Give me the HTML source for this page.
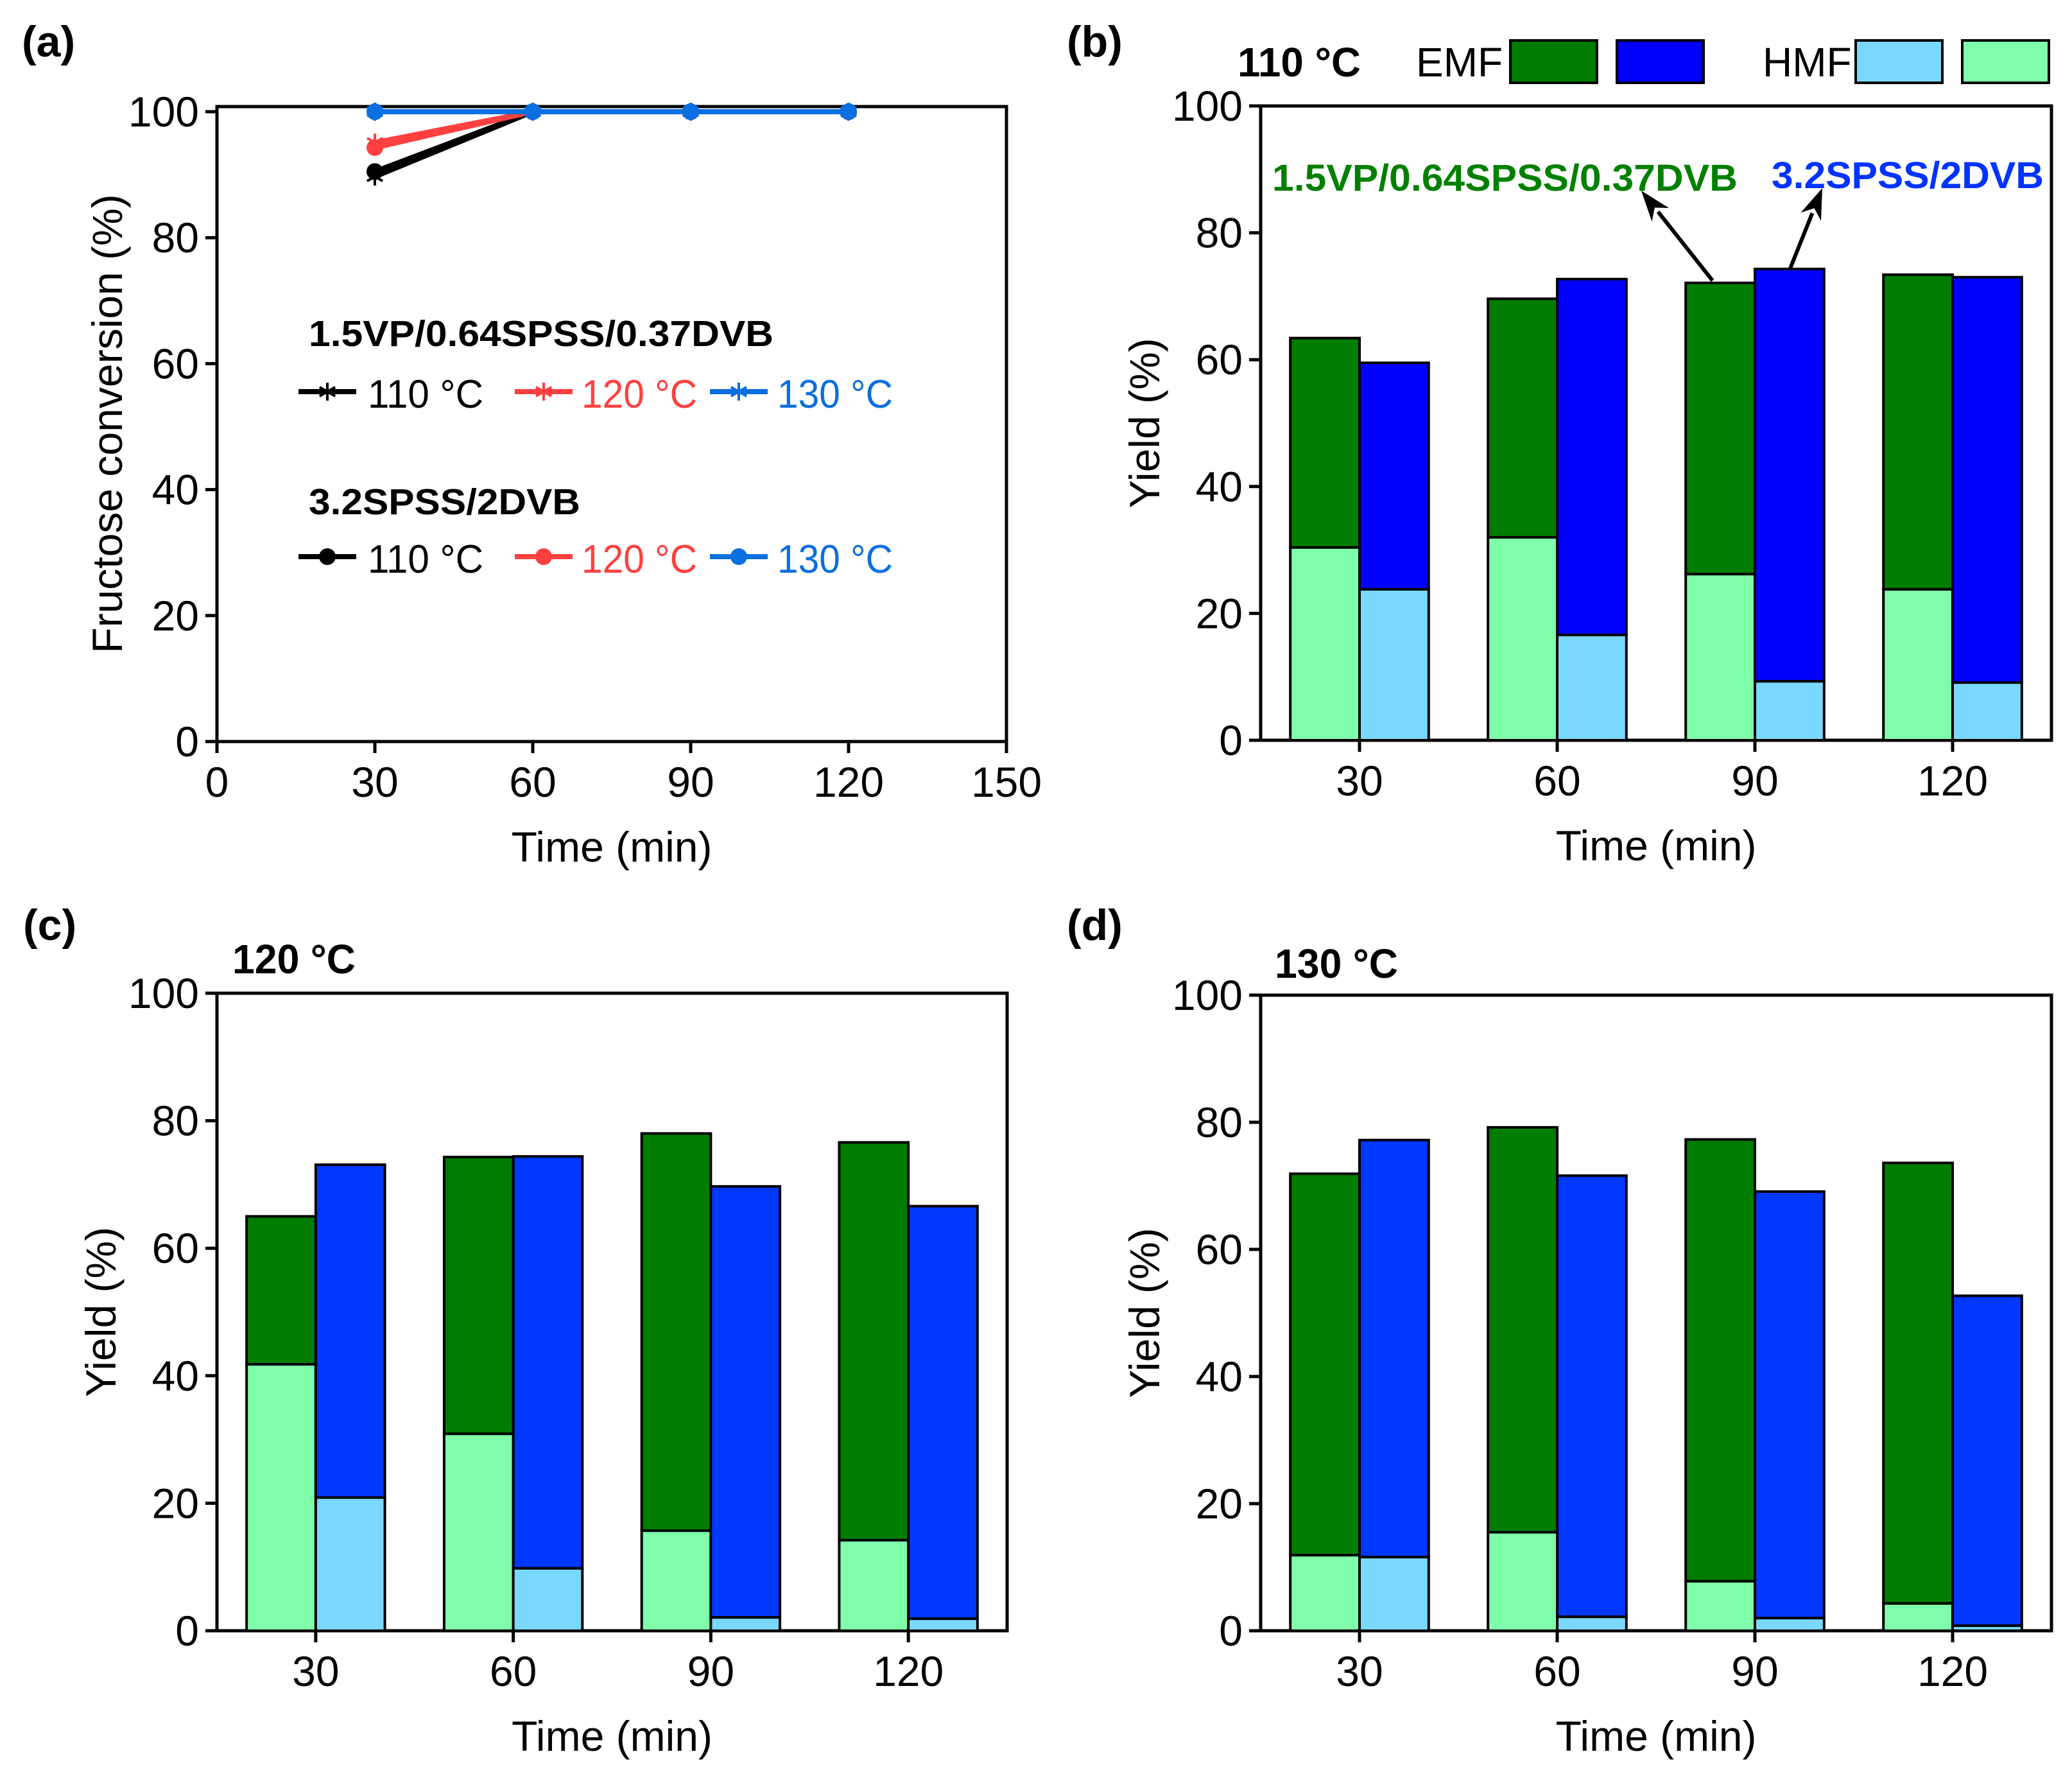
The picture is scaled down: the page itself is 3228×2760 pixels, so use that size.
<!DOCTYPE html>
<html><head><meta charset="utf-8"><style>
html,body{margin:0;padding:0;background:#fff}
svg{display:block}
text{font-family:"Liberation Sans",Arial,sans-serif}
</style></head><body>
<svg id="fig" width="3228" height="2760" viewBox="0 0 3228 2760" xmlns="http://www.w3.org/2000/svg">
<g id="root"></g>
</svg>
<script>
// ---- Panel (a) data ----
const convTimes = [30, 60, 90, 120];
const vp110 = [89.7, 100, 100, 100];
const vp120 = [95.1, 100, 100, 100];
const vp130 = [100, 100, 100, 100];
const sp110 = [90.5, 100, 100, 100];
const sp120 = [94.3, 100, 100, 100];
const sp130 = [100, 100, 100, 100];
const convXTicks = [0, 30, 60, 90, 120, 150];
const yTicks = [0, 20, 40, 60, 80, 100];
// ---- Bar panels data (HMF bottom, EMF stacked on top) ----
const barCats = [30, 60, 90, 120];
const b_vpHMF = [30.4, 32.0, 26.2, 23.8];
const b_vpEMF = [33.0, 37.6, 45.9, 49.6];
const b_spHMF = [23.8, 16.6, 9.3, 9.1];
const b_spEMF = [35.7, 56.1, 65.0, 63.9];
const c_vpHMF = [41.8, 30.9, 15.7, 14.2];
const c_vpEMF = [23.2, 43.4, 62.3, 62.4];
const c_spHMF = [20.9, 9.8, 2.1, 1.9];
const c_spEMF = [52.2, 64.6, 67.6, 64.7];
const d_vpHMF = [11.9, 15.5, 7.8, 4.3];
const d_vpEMF = [60.0, 63.7, 69.5, 69.3];
const d_spHMF = [11.6, 2.2, 2.0, 0.8];
const d_spEMF = [65.6, 69.4, 67.1, 51.9];

const NS = 'http://www.w3.org/2000/svg';
const root = document.getElementById('root');
function mk(tag, attrs, parent) {
  const e = document.createElementNS(NS, tag);
  for (const k in attrs) e.setAttribute(k, attrs[k]);
  (parent || root).appendChild(e);
  return e;
}
function txt(s, attrs, parent) { const e = mk('text', attrs, parent); e.textContent = s; return e; }

function axes(g, L, R, T, B, x0, x1, y0, y1, xt, yt, frameTop) {
  const sx = v => L + (v - x0) / (x1 - x0) * (R - L);
  const sy = v => B - (v - y0) / (y1 - y0) * (B - T);
  const fr = mk('rect', {x: L, y: frameTop, width: R - L, height: B - frameTop, fill: 'none', stroke: '#000', 'stroke-width': 5}, g);
  
  
  yt.forEach(v => {
    const y = sy(v);
    const t = mk('line', {x1: L - 18, x2: L, y1: y, y2: y, stroke: '#000', 'stroke-width': 5}, g);
    
    
    const l = txt(String(v), {x: L - 28, y: y + 23, 'font-size': 66, 'text-anchor': 'end'}, g);
    
    
  });
  xt.forEach(v => {
    const x = sx(v);
    const t = mk('line', {x1: x, x2: x, y1: B, y2: B + 18, stroke: '#000', 'stroke-width': 5}, g);
    
    
    const l = txt(String(v), {x: x, y: B + 86, 'font-size': 66, 'text-anchor': 'middle'}, g);
    
    
  });
  return {sx, sy};
}
function titles(g, L, R, B, yx, yc, ylab) {
  const xt = txt('Time (min)', {x: (L + R) / 2, y: B + 187, 'font-size': 66, 'text-anchor': 'middle'}, g);
  
  
  const yt = txt(ylab, {x: 0, y: 0, 'font-size': 66, 'text-anchor': 'middle', transform: `translate(${yx},${yc}) rotate(-90)`}, g);
  
  
}

// ---------- Panel (a) ----------
(function () {
  const g = mk('g', {});
  
  
  const L = 338, R = 1568, T = 174, B = 1155;
  const {sx, sy} = axes(g, L, R, T, B, 0, 150, 0, 100, convXTicks, yTicks, 166);
  titles(g, L, R, B, 190, 660, 'Fructose conversion (%)');
  const pl = txt('(a)', {x: 34, y: 88, 'font-size': 68, 'font-weight': 'bold'}, g);
  
  
  function star(x, y, c, p) {
    const r = 14;
    [[0, 1], [0.866, 0.5], [0.866, -0.5]].forEach(([a, b]) => {
      const s = mk('line', {x1: x - r * a, y1: y - r * b, x2: x + r * a, y2: y + r * b, stroke: c, 'stroke-width': 4}, p);
      
      
    });
  }
  function series(vals, c, marker, name) {
    const sg = mk('g', {}, g);
    
    
    const pts = vals.map((v, i) => sx(convTimes[i]) + ',' + sy(v)).join(' ');
    const pln = mk('polyline', {points: pts, fill: 'none', stroke: c, 'stroke-width': 8}, sg);
    
    
    vals.forEach((v, i) => {
      if (marker === 'star') star(sx(convTimes[i]), sy(v), c, sg);
      else {
        const ci = mk('circle', {cx: sx(convTimes[i]), cy: sy(v), r: 13, fill: c}, sg);
        
        
      }
    });
  }
  series(vp110, '#000', 'star', 'series-vp-110');
  series(sp110, '#000', 'dot', 'series-spss-110');
  series(vp120, '#ff4040', 'star', 'series-vp-120');
  series(sp120, '#ff4040', 'dot', 'series-spss-120');
  series(vp130, '#0a6fe0', 'star', 'series-vp-130');
  series(sp130, '#0a6fe0', 'dot', 'series-spss-130');
  // legend
  const lg = mk('g', {}, g);
  
  
  const t1 = txt('1.5VP/0.64SPSS/0.37DVB', {x: 481, y: 539, 'font-size': 57, 'font-weight': 'bold', textLength: 724, lengthAdjust: 'spacingAndGlyphs'}, lg);
  
  
  const t2 = txt('3.2SPSS/2DVB', {x: 481, y: 801, 'font-size': 57, 'font-weight': 'bold', textLength: 423, lengthAdjust: 'spacingAndGlyphs'}, lg);
  
  
  const entries = [[465, 573, '#000', '110 °C'], [802, 906, '#ff4040', '120 °C'], [1106, 1211, '#0a6fe0', '130 °C']];
  [[610, 632, 'star'], [867, 889, 'dot']].forEach(([ly, ty, m]) => {
    entries.forEach(([lx, tx, c, s]) => {
      const ln = mk('line', {x1: lx, x2: lx + 90, y1: ly, y2: ly, stroke: c, 'stroke-width': 8}, lg);
      
      
      if (m === 'star') star(lx + 45, ly, c, lg);
      else {
        const ci = mk('circle', {cx: lx + 45, cy: ly, r: 13, fill: c}, lg);
        
        
      }
      const te = txt(s, {x: tx, y: ty + 3, 'font-size': 62, fill: c, textLength: 180, lengthAdjust: 'spacingAndGlyphs'}, lg);
      
      
    });
  });
})();

// ---------- Bar panels ----------
function barPanel(name, label, L, R, T, B, vpH, vpE, spH, spE, emfVP, emfSP, opts) {
  const g = mk('g', {});
  
  
  const {sx, sy} = axes(g, L, R, T, B, 15, 135, 0, 100, barCats, yTicks, T);
  titles(g, L, R, B, L - 158, (T + B) / 2, 'Yield (%)');
  const pl = txt(label, {x: L - 302, y: opts.labelY, 'font-size': 68, 'font-weight': 'bold'}, g);
  
  
  const tt = txt(opts.temp, {x: opts.tempX, y: opts.tempY, 'font-size': 64, 'font-weight': 'bold', textLength: 192, lengthAdjust: 'spacingAndGlyphs'}, g);
  
  
  const bw = sx(25.5) - sx(15);
  function rect(x, v0, v1, fill, nm) {
    const r = mk('rect', {x: x, y: sy(v1), width: bw, height: sy(v0) - sy(v1), fill: fill, stroke: '#000', 'stroke-width': 4}, g);
    
    
  }
  barCats.forEach((c, i) => {
    const cx = sx(c);
    rect(cx - bw, 0, vpH[i], '#80ffaa', 'bar-vp-hmf');
    rect(cx - bw, vpH[i], vpH[i] + vpE[i], emfVP, 'bar-vp-emf');
    rect(cx, 0, spH[i], '#7ad8ff', 'bar-spss-hmf');
    rect(cx, spH[i], spH[i] + spE[i], emfSP, 'bar-spss-emf');
  });
  return g;
}
const gb = barPanel('panel-b', '(b)', 1964, 3196, 165, 1153, b_vpHMF, b_vpEMF, b_spHMF, b_spEMF, '#007d00', '#0000ff',
  {labelY: 88, temp: '110 °C', tempX: 1928, tempY: 119});
barPanel('panel-c', '(c)', 338, 1569, 1547, 2540, c_vpHMF, c_vpEMF, c_spHMF, c_spEMF, '#007d00', '#0038ff',
  {labelY: 1464, temp: '120 °C', tempX: 362, tempY: 1516});
barPanel('panel-d', '(d)', 1964, 3196, 1550, 2540, d_vpHMF, d_vpEMF, d_spHMF, d_spEMF, '#007d00', '#0038ff',
  {labelY: 1464, temp: '130 °C', tempX: 1986, tempY: 1523});

// panel b legend + annotations
(function () {
  const lg = mk('g', {}, gb);
  
  
  const e1 = txt('EMF', {x: 2206, y: 119, 'font-size': 64}, lg);
  
  
  const e2 = txt('HMF', {x: 2746, y: 119, 'font-size': 64}, lg);
  
  
  [[2353, '#007d00', 'legend-swatch-vp-emf'], [2519, '#0000ff', 'legend-swatch-spss-emf'], [2891, '#7ad8ff', 'legend-swatch-spss-hmf'], [3057, '#80ffaa', 'legend-swatch-vp-hmf']].forEach(([x, c, n]) => {
    const r = mk('rect', {x: x, y: 63, width: 135, height: 66, fill: c, stroke: '#000', 'stroke-width': 4}, lg);
    
    
  });
  const a1 = txt('1.5VP/0.64SPSS/0.37DVB', {x: 1982, y: 297, 'font-size': 58, 'font-weight': 'bold', fill: '#008000', textLength: 725, lengthAdjust: 'spacingAndGlyphs'}, gb);
  
  
  const a2 = txt('3.2SPSS/2DVB', {x: 2760, y: 293, 'font-size': 58, 'font-weight': 'bold', fill: '#0033ff', textLength: 424, lengthAdjust: 'spacingAndGlyphs'}, gb);
  
  
  function arrow(x1, y1, x2, y2, n) {
    const ag = mk('g', {}, gb);
    
    
    const dx = x2 - x1, dy = y2 - y1, len = Math.hypot(dx, dy), ux = dx / len, uy = dy / len;
    const hl = 48, hw = 17;
    const bx = x2 - ux * hl, by = y2 - uy * hl;
    const ln = mk('line', {x1: x1, y1: y1, x2: bx + ux * 6, y2: by + uy * 6, stroke: '#000', 'stroke-width': 6}, ag);
    
    
    const p = mk('polygon', {points: `${x2},${y2} ${bx - uy * hw},${by + ux * hw} ${x2 - ux * hl * 0.7},${y2 - uy * hl * 0.7} ${bx + uy * hw},${by - ux * hw}`, fill: '#000'}, ag);
    
    
  }
  arrow(2668, 437, 2557, 297, 'arrow-vp');
  arrow(2789, 418, 2839, 293, 'arrow-spss');
})();
</script>
</body></html>
